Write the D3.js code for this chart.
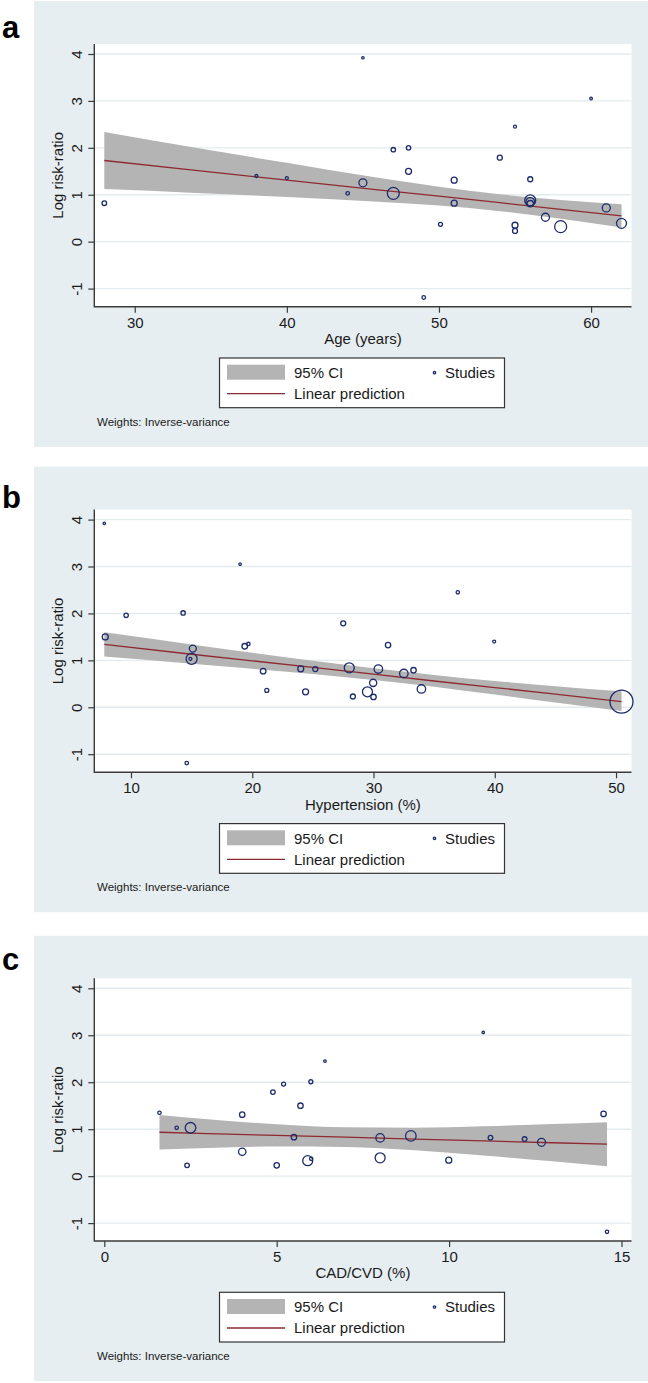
<!DOCTYPE html>
<html>
<head>
<meta charset="utf-8">
<script src="https://cdn.jsdelivr.net/npm/d3@7"></script>
<style>
  html, body { margin: 0; padding: 0; background: #fff; }
  svg { display: block; font-family: "Liberation Sans", Arial, sans-serif; }
</style>
</head>
<body>
<div id="chart"></div>
<script>
// ---- data ----
// a: Age (years)
const ageX = [28, 38, 40, 44, 45, 45, 47, 47, 48, 48, 49, 50.1, 51, 51, 54, 55, 55, 55, 56, 56, 56, 56, 57, 58, 60, 61, 62]
const ageY = [0.82, 1.40, 1.355, 1.03, 1.255, 3.92, 1.96, 1.03, 2.00, 1.50, -1.19, 0.37, 1.31, 0.82, 1.79, 2.45, 0.35, 0.23, 1.33, 0.88, 0.85, 0.81, 0.52, 0.32, 3.05, 0.72, 0.39]
const ageW = [5.3, 2.25, 2.25, 3.2, 16, 1.44, 4.8, 36, 4.8, 9, 3.2, 4, 9, 9, 6.25, 2.25, 9, 6.25, 6.25, 30, 18, 10, 16, 36, 1.7, 16, 25]
const ageFitX = [28, 34, 40, 46, 50, 54, 58, 62]
const ageFit = [1.73, 1.52, 1.31, 1.105, 0.97, 0.83, 0.69, 0.55]
const ageHi = [2.34, 2.00, 1.68, 1.36, 1.17, 1.01, 0.89, 0.80]
const ageLo = [1.12, 1.04, 0.95, 0.85, 0.77, 0.65, 0.49, 0.30]
const ageTicks = [30, 40, 50, 60]

// b: Hypertension (%)
const htnX = [7.8, 7.88, 9.6, 14.3, 15.1, 15.0, 14.9, 19.0, 19.38, 19.68, 20.9, 21.2, 24.0, 24.4, 25.2, 27.5, 28.0, 28.3, 14.6, 29.5, 29.97, 30.0, 30.4, 31.2, 32.5, 33.3, 33.95, 36.95, 39.95, 50.45]
const htnY = [3.92, 1.50, 1.96, 2.01, 1.25, 1.03, 1.03, 3.05, 1.30, 1.35, 0.77, 0.36, 0.82, 0.33, 0.815, 1.79, 0.84, 0.23, -1.19, 0.33, 0.52, 0.22, 0.815, 1.325, 0.72, 0.79, 0.39, 2.45, 1.40, 0.12]
const htnW = [1.44, 9, 4.8, 4.8, 12.25, 30, 2.25, 1.44, 7.8, 2.9, 7.8, 4, 9, 9, 6.25, 6.25, 25, 6.25, 3.2, 25, 13, 7.3, 18, 7.3, 18, 7.3, 18, 2.9, 2.25, 132]
const htnFitX = [7.8, 15, 20, 25, 30, 35, 40, 45, 50.45]
const htnFit = [1.34, 1.13, 0.99, 0.85, 0.705, 0.56, 0.42, 0.28, 0.12]
const htnHi = [1.60, 1.34, 1.16, 0.99, 0.83, 0.69, 0.56, 0.45, 0.34]
const htnLo = [1.08, 0.93, 0.82, 0.71, 0.58, 0.44, 0.27, 0.10, -0.08]
const htnTicks = [10, 20, 30, 40, 50]

// c: CAD/CVD (%)
const cvdX = [1.6, 2.1, 2.5, 2.4, 4.0, 4.0, 4.89, 5.2, 5.0, 5.5, 5.69, 5.99, 6.4, 5.9, 6.0, 8.0, 8.0, 8.89, 9.99, 10.99, 11.2, 12.19, 12.68, 14.48, 14.58]
const cvdY = [1.35, 1.03, 1.03, 0.23, 1.31, 0.52, 1.79, 1.96, 0.23, 0.83, 1.50, 2.01, 2.45, 0.33, 0.37, 0.815, 0.39, 0.857, 0.34, 3.06, 0.82, 0.79, 0.72, 1.325, -1.185]
const cvdW = [2.9, 2.9, 28, 5.3, 7.3, 13.7, 5.3, 4, 7.3, 7.3, 7.3, 4, 1.7, 25, 2.9, 18, 25, 28, 9, 1.44, 5.3, 5.3, 16, 7.3, 2.9]
const cvdFitX = [1.6, 3, 5, 7, 9, 11, 13, 14.58]
const cvdFit = [0.935, 0.907, 0.868, 0.829, 0.789, 0.75, 0.711, 0.68]
const cvdHi = [1.30, 1.21, 1.105, 1.04, 1.03, 1.06, 1.11, 1.15]
const cvdLo = [0.57, 0.60, 0.63, 0.62, 0.55, 0.44, 0.315, 0.21]
const cvdTicks = [0, 5, 10, 15]

const yTicks = [-1, 0, 1, 2, 3, 4]
const legendLabels = ['95% CI', 'Linear prediction', 'Studies']
const noteText = 'Weights: Inverse-variance'

// ---- layout ----
const W = 648, H = 1383
const font = '"Liberation Sans", Arial, sans-serif'
const col = {
    bg: '#e7eef1', grid: '#e3ebee', band: '#b4b4b4', fit: '#8e2a31',
    marker: '#1e2c6b', axis: '#3a3a3a', text: '#1a1a1a'
}
const plot = {left: 94.3, right: 631.5, top: 44, bottom: 306.7, inset: 10}

const panels = [
    {tag: 'a', top: 0, bgTop: 1, bgBottom: 447, tagY: 38, title: 'Age (years)',
        xs: ageX, ys: ageY, ws: ageW, fx: ageFitX, fy: ageFit, hi: ageHi, lo: ageLo, ticks: ageTicks},
    {tag: 'b', top: 465.6, bgTop: 466.7, bgBottom: 912.3, tagY: 508, title: 'Hypertension (%)',
        xs: htnX, ys: htnY, ws: htnW, fx: htnFitX, fy: htnFit, hi: htnHi, lo: htnLo, ticks: htnTicks},
    {tag: 'c', top: 934.3, bgTop: 935.7, bgBottom: 1381, tagY: 970, title: 'CAD/CVD (%)',
        xs: cvdX, ys: cvdY, ws: cvdW, fx: cvdFitX, fy: cvdFit, hi: cvdHi, lo: cvdLo, ticks: cvdTicks}
]

const svg = d3.select('#chart').append('svg')
    .attr('width', W).attr('height', H)

// bubble radius from weight, shared by all three panels
const rScale = d3.scaleSqrt().domain([0, 144]).range([0, 12])
// plain hyphen for negatives, as in the original
const fmt = d => String(d)

function drawPanel(p) {
    svg.append('rect')
        .attr('x', 34).attr('y', p.bgTop)
        .attr('width', W - 34).attr('height', p.bgBottom - p.bgTop)
        .attr('fill', col.bg)

    svg.append('text')
        .attr('x', 2).attr('y', p.tagY)
        .attr('font-size', 31).attr('font-weight', 'bold')
        .attr('fill', '#000')
        .text(p.tag)

    const g = svg.append('g').attr('transform', `translate(0,${p.top})`)

    const xLo = Math.min(d3.min(p.xs), d3.min(p.ticks))
    const xHi = Math.max(d3.max(p.xs), d3.max(p.ticks))
    const x = d3.scaleLinear().domain([xLo, xHi])
        .range([plot.left + plot.inset, plot.right - plot.inset])
    const yLo = Math.min(d3.min(p.ys), d3.min(yTicks))
    const yHi = Math.max(d3.max(p.ys), d3.max(yTicks))
    const y = d3.scaleLinear().domain([yLo, yHi])
        .range([plot.bottom - plot.inset + 0.8, plot.top + plot.inset])

    g.append('rect')
        .attr('x', plot.left).attr('y', plot.top)
        .attr('width', plot.right - plot.left).attr('height', plot.bottom - plot.top)
        .attr('fill', '#fff')

    // gridlines
    g.selectAll('.grid').data(yTicks).enter().append('line')
        .attr('x1', plot.left).attr('x2', plot.right)
        .attr('y1', d => y(d)).attr('y2', d => y(d))
        .attr('stroke', col.grid).attr('stroke-width', 1.4)

    const fitRows = p.fx.map((v, i) => ({x: v, f: p.fy[i], hi: p.hi[i], lo: p.lo[i]}))

    g.append('path')
        .datum(fitRows)
        .attr('fill', col.band)
        .attr('d', d3.area().curve(d3.curveMonotoneX)
            .x(d => x(d.x)).y0(d => y(d.lo)).y1(d => y(d.hi)))

    g.append('path')
        .datum(fitRows)
        .attr('fill', 'none').attr('stroke', col.fit).attr('stroke-width', 1.3)
        .attr('d', d3.line().x(d => x(d.x)).y(d => y(d.f)))

    const pts = p.xs.map((v, i) => ({x: v, y: p.ys[i], w: p.ws[i]}))
    g.selectAll('.pt').data(pts).enter().append('circle')
        .attr('cx', d => x(d.x)).attr('cy', d => y(d.y))
        .attr('r', d => rScale(d.w))
        .attr('fill', 'none').attr('stroke', col.marker).attr('stroke-width', 1.3)

    // axes
    const yAxis = g.append('g')
        .attr('transform', `translate(${plot.left},0)`)
        .call(d3.axisLeft(y).tickValues(yTicks).tickSize(6).tickSizeOuter(0).tickFormat(fmt))
    yAxis.select('.domain').remove()
    yAxis.selectAll('line').attr('stroke', col.axis).attr('stroke-width', 1.2)
    yAxis.selectAll('text')
        .attr('transform', 'rotate(-90)')
        .attr('x', 0).attr('y', -12.8).attr('dy', 0)
        .attr('text-anchor', 'middle')
        .attr('font-family', font).attr('font-size', 15).attr('fill', col.text)

    const xAxis = g.append('g')
        .attr('transform', `translate(0,${plot.bottom})`)
        .call(d3.axisBottom(x).tickValues(p.ticks).tickSize(6).tickSizeOuter(0).tickFormat(fmt))
    xAxis.select('.domain').remove()
    xAxis.selectAll('line').attr('stroke', col.axis).attr('stroke-width', 1.2)
    xAxis.selectAll('text')
        .attr('y', 10.5).attr('dy', '0.71em')
        .attr('font-family', font).attr('font-size', 15).attr('fill', col.text)

    g.append('path')
        .attr('d', `M${plot.left},${plot.top}V${plot.bottom}H${plot.right}`)
        .attr('fill', 'none').attr('stroke', col.axis).attr('stroke-width', 1.4)

    // titles
    g.append('text')
        .attr('x', (plot.left + plot.right) / 2).attr('y', 344)
        .attr('text-anchor', 'middle').attr('font-size', 15).attr('fill', col.text)
        .text(p.title)
    g.append('text')
        .attr('transform', `translate(63,${(plot.top + plot.bottom) / 2}) rotate(-90)`)
        .attr('text-anchor', 'middle').attr('font-size', 15).attr('fill', col.text)
        .text('Log risk-ratio')

    // legend
    const lg = g.append('g')
    lg.append('rect')
        .attr('x', 219.5).attr('y', 358).attr('width', 285).attr('height', 49.7)
        .attr('fill', '#fff').attr('stroke', '#333').attr('stroke-width', 1.2)
    lg.append('rect')
        .attr('x', 227).attr('y', 364.7).attr('width', 58).attr('height', 15)
        .attr('fill', col.band)
    lg.append('line')
        .attr('x1', 227).attr('x2', 285).attr('y1', 393.7).attr('y2', 393.7)
        .attr('stroke', col.fit).attr('stroke-width', 1.3)
    lg.append('circle')
        .attr('cx', 434.5).attr('cy', 372.7).attr('r', 1.2)
        .attr('fill', 'none').attr('stroke', col.marker).attr('stroke-width', 1.3)
    lg.append('text').attr('x', 294).attr('y', 378).attr('font-size', 15).attr('fill', col.text).text(legendLabels[0])
    lg.append('text').attr('x', 294).attr('y', 399).attr('font-size', 15).attr('fill', col.text).text(legendLabels[1])
    lg.append('text').attr('x', 445).attr('y', 378).attr('font-size', 15).attr('fill', col.text).text(legendLabels[2])

    g.append('text')
        .attr('x', 97).attr('y', 425.5)
        .attr('font-size', 11.5).attr('fill', col.text)
        .text(noteText)
}

panels.forEach(drawPanel)
</script>
</body>
</html>
